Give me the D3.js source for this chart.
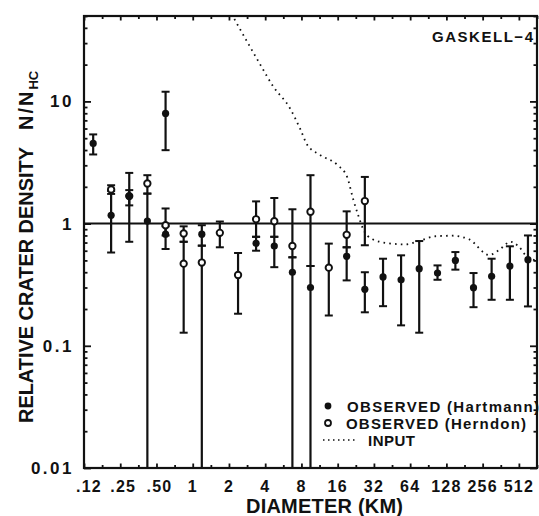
<!DOCTYPE html>
<html>
<head>
<meta charset="utf-8">
<script src="https://cdn.jsdelivr.net/npm/d3@7"></script>
<style>
  body { margin: 0; background: #fff; }
  #chart { width: 539px; height: 516px; }
  text { font-family: "Liberation Sans", Arial, sans-serif; font-weight: bold; fill: #111; }
</style>
</head>
<body>
<div id="chart"></div>
<script>
/*DEFINE DATA SET*/

// observed (Hartmann) - filled dots
const hartD  = [0.149, 0.210, 0.297, 0.420, 0.595, 0.595, 1.19, 3.36, 4.76, 6.73, 9.51, 19.0, 26.9, 38.1, 53.8, 76.1, 108, 152, 215, 304, 431, 609];
const hartN  = [4.53, 1.17, 1.68, 1.05, 7.97, 0.82, 0.82, 0.69, 0.656, 0.40, 0.30, 0.54, 0.29, 0.366, 0.347, 0.428, 0.394, 0.50, 0.299, 0.37, 0.45, 0.507];
const hartLo = [3.68, 0.58, 0.71, 0.001, 3.99, 0.62, 0.66, 0.60, 0.44, 0.001, 0.001, 0.343, 0.188, 0.211, 0.147, 0.128, 0.347, 0.42, 0.207, 0.238, 0.238, 0.21];
const hartHi = [5.37, 1.85, 2.6, 1.76, 12.0, 0.95, 0.97, 0.78, 0.78, 0.53, 0.45, 0.64, 0.40, 0.516, 0.55, 0.72, 0.455, 0.585, 0.394, 0.516, 0.652, 0.80];

// observed (Herndon) - open circles
const herndD  = [0.210, 0.297, 0.420, 0.595, 0.841, 0.841, 1.19, 1.68, 2.38, 3.36, 4.76, 6.73, 9.51, 13.5, 19.0, 26.9];
const herndN  = [1.90, 1.68, 2.13, 0.97, 0.83, 0.47, 0.48, 0.84, 0.38, 1.085, 1.045, 0.656, 1.25, 0.436, 0.81, 1.53];
const herndLo = [1.75, 1.41, 1.76, 0.80, 0.71, 0.128, 0.001, 0.64, 0.183, 0.78, 0.78, 0.53, 0.45, 0.177, 0.64, 0.665];
const herndHi = [2.06, 1.88, 2.49, 1.33, 0.95, 0.71, 0.66, 1.04, 0.575, 1.52, 1.62, 1.31, 2.49, 0.686, 1.26, 2.41];

// input curve (dotted)
const inputD = [2.1, 2.81, 3.63, 4.65, 6.45, 7.8, 8.93, 11.4, 15.9, 19.2, 21.5, 23.7, 26.1, 31, 42.6, 58.1, 75.6, 104, 143, 197, 290, 350, 437, 514, 601, 724];
const inputN = [52, 31.2, 20.1, 13.3, 8.73, 5.98, 4.42, 3.65, 3.02, 2.40, 1.59, 1.17, 0.898, 0.746, 0.69, 0.676, 0.72, 0.788, 0.796, 0.745, 0.553, 0.607, 0.71, 0.644, 0.533, 0.50];

// tick values and labels
const xTickVals   = [0.125, 0.25, 0.5, 1, 2, 4, 8, 16, 32, 64, 128, 256, 512];
const xTickLabels = [".12", ".25", ".50", "1", "2", "4", "8", "16", "32", "64", "128", "256", "512"];
const yTickVals   = [0.01, 0.1, 1, 10];
const yTickLabels = ["0.01", "0.1", "1", "10"];

/*
SETTING UP THE SVG CANVAS
*/
const width = 539;
const height = 516;
const margin = {top: 16, left: 84, right: 2, bottom: 48};

const svg = d3.select("#chart")
  .append("svg")
  .attr("width", width)
  .attr("height", height);

svg.append("rect").attr("width", width).attr("height", height).attr("fill", "#fff");

/*DEFINE SCALES*/
const xScale = d3.scaleLog()
  .domain([0.125, 724.1])
  .range([margin.left, width - margin.right]);

const yScale = d3.scaleLog()
  .domain([0.01, 50])
  .range([height - margin.bottom, margin.top]);

const x0 = margin.left, x1 = width - margin.right;
const y0 = height - margin.bottom, y1 = margin.top;

svg.append("clipPath").attr("id", "plot")
  .append("rect")
  .attr("x", x0).attr("y", y1)
  .attr("width", x1 - x0).attr("height", y0 - y1);

/*TICKS ON ALL FOUR SIDES*/
const xMinor = xTickVals.map(d => d * Math.SQRT2);
const yMinor = [];
[0.01, 0.1, 1, 10].forEach(dec => {
  for (let m = 2; m <= 9; m++) if (dec * m <= 50) yMinor.push(dec * m);
});

function tickAxis(axis, tx, ty) {
  const g = svg.append("g")
    .attr("transform", `translate(${tx},${ty})`)
    .call(axis.tickFormat(""));
  g.select(".domain").remove();
  g.selectAll("line").attr("stroke", "#111").attr("stroke-width", 1.8);
}

tickAxis(d3.axisBottom(xScale).tickValues(xTickVals).tickSize(-4.5), 0, y0);
tickAxis(d3.axisBottom(xScale).tickValues(xMinor).tickSize(-3), 0, y0);
tickAxis(d3.axisTop(xScale).tickValues(xTickVals).tickSize(-4.5), 0, y1);
tickAxis(d3.axisTop(xScale).tickValues(xMinor).tickSize(-3), 0, y1);
tickAxis(d3.axisLeft(yScale).tickValues(yTickVals).tickSize(-7), x0, 0);
tickAxis(d3.axisLeft(yScale).tickValues(yMinor).tickSize(-3.5), x0, 0);
tickAxis(d3.axisRight(yScale).tickValues(yTickVals).tickSize(-7), x1, 0);
tickAxis(d3.axisRight(yScale).tickValues(yMinor).tickSize(-3.5), x1, 0);

/*TICK LABELS*/
svg.append("g").selectAll("text")
  .data(xTickVals)
  .enter()
  .append("text")
    .attr("x", (d, i) => xScale(d) + (xTickLabels[i][0] === "." ? 3 : 0) + (i === 0 ? 2 : 0))
    .attr("y", 492)
    .attr("text-anchor", "middle")
    .attr("font-size", 16)
    .attr("letter-spacing", 1.2)
    .text((d, i) => xTickLabels[i]);

svg.append("g").selectAll("text")
  .data(yTickVals)
  .enter()
  .append("text")
    .attr("x", 74)
    .attr("y", d => yScale(d) + 6)
    .attr("text-anchor", "end")
    .attr("font-size", 17)
    .attr("letter-spacing", 2.5)
    .text((d, i) => yTickLabels[i]);

/*REFERENCE LINE AT N/NHC = 1*/
svg.append("line")
  .attr("x1", x0).attr("x2", x1)
  .attr("y1", yScale(1)).attr("y2", yScale(1))
  .attr("stroke", "#111")
  .attr("stroke-width", 2);

/*INPUT CURVE*/
const line = d3.line()
  .x(i => xScale(inputD[i]))
  .y(i => yScale(inputN[i]))
  .curve(d3.curveMonotoneX);

svg.append("path")
  .datum(d3.range(inputD.length))
  .attr("clip-path", "url(#plot)")
  .attr("d", line)
  .attr("fill", "none")
  .attr("stroke", "#111")
  .attr("stroke-width", 1.8)
  .attr("stroke-dasharray", "1.6,4.2");

/*ERROR BARS*/
const marks = svg.append("g").attr("clip-path", "url(#plot)");

function errorBars(D, lo, hi) {
  const g = marks.append("g");
  g.selectAll(".bar")
    .data(D)
    .enter()
    .append("line")
      .attr("x1", d => xScale(d)).attr("x2", d => xScale(d))
      .attr("y1", (d, i) => yScale(Math.max(lo[i], 0.005)))
      .attr("y2", (d, i) => yScale(hi[i]))
      .attr("stroke", "#111")
      .attr("stroke-width", 2.2);
  const caps = [];
  D.forEach((d, i) => {
    caps.push([d, hi[i]]);
    if (lo[i] >= 0.01) caps.push([d, lo[i]]);
  });
  g.selectAll(".cap")
    .data(caps)
    .enter()
    .append("line")
      .attr("x1", c => xScale(c[0]) - 4).attr("x2", c => xScale(c[0]) + 4)
      .attr("y1", c => yScale(c[1])).attr("y2", c => yScale(c[1]))
      .attr("stroke", "#111")
      .attr("stroke-width", 2);
}
errorBars(herndD, herndLo, herndHi);
errorBars(hartD, hartLo, hartHi);

/*DRAW THE MARKS*/
marks.append("g").selectAll("circle")
  .data(herndD)
  .enter()
  .append("circle")
    .attr("cx", d => xScale(d))
    .attr("cy", (d, i) => yScale(herndN[i]))
    .attr("r", 3.2)
    .attr("fill", "#fff")
    .attr("stroke", "#111")
    .attr("stroke-width", 1.9);

marks.append("g").selectAll("circle")
  .data(hartD)
  .enter()
  .append("circle")
    .attr("cx", d => xScale(d))
    .attr("cy", (d, i) => yScale(hartN[i]))
    .attr("r", 3.6)
    .attr("fill", "#111");

/*FRAME*/
svg.append("rect")
  .attr("x", x0).attr("y", y1)
  .attr("width", x1 - x0).attr("height", y0 - y1)
  .attr("fill", "none")
  .attr("stroke", "#111")
  .attr("stroke-width", 2.2);

/*LEGEND*/
const legend = svg.append("g");
legend.append("circle").attr("cx", 328).attr("cy", 406).attr("r", 3.4).attr("fill", "#111");
legend.append("text").attr("x", 347).attr("y", 411.5).attr("font-size", 15)
  .attr("textLength", 192).attr("lengthAdjust", "spacing").text("OBSERVED (Hartmann)");
legend.append("circle").attr("cx", 328).attr("cy", 423).attr("r", 3).attr("fill", "#fff")
  .attr("stroke", "#111").attr("stroke-width", 1.8);
legend.append("text").attr("x", 346).attr("y", 428.5).attr("font-size", 15)
  .attr("textLength", 180).attr("lengthAdjust", "spacing").text("OBSERVED (Herndon)");
legend.append("line").attr("x1", 323).attr("x2", 356).attr("y1", 440).attr("y2", 440)
  .attr("stroke", "#111").attr("stroke-width", 1.6).attr("stroke-dasharray", "1.5,3.5");
legend.append("text").attr("x", 368).attr("y", 445.5).attr("font-size", 15)
  .attr("textLength", 47).attr("lengthAdjust", "spacing").text("INPUT");

/*TITLES*/
svg.append("text")
  .attr("x", 432).attr("y", 41.5)
  .attr("font-size", 15)
  .attr("textLength", 101).attr("lengthAdjust", "spacing")
  .text("GASKELL\u22124");

svg.append("text")
  .attr("x", 246).attr("y", 513)
  .attr("font-size", 20)
  .attr("textLength", 157).attr("lengthAdjust", "spacing")
  .text("DIAMETER (KM)");

svg.append("text")
  .attr("transform", "rotate(-90)")
  .attr("x", -423).attr("y", 33)
  .attr("font-size", 20)
  .attr("textLength", 276).attr("lengthAdjust", "spacing")
  .text("RELATIVE CRATER DENSITY");

const yt = svg.append("text")
  .attr("transform", "rotate(-90)")
  .attr("x", -130).attr("y", 33)
  .attr("font-size", 20)
  .attr("letter-spacing", 2);
yt.append("tspan").text("N/N");
yt.append("tspan").attr("font-size", 13).attr("dy", 5).attr("letter-spacing", 0).text("HC");
</script>
</body>
</html>
